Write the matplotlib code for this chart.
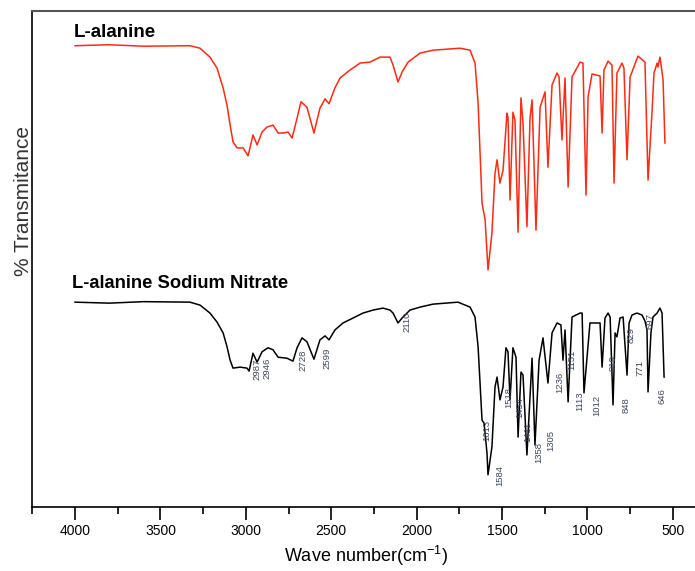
import matplotlib.pyplot as plt
from matplotlib.ticker import MultipleLocator

# L-alanine (red trace): wavenumber (cm-1) and transmittance (arb. %)
red_wn = [4000, 3800, 3600, 3327, 3268, 3210, 3169, 3133, 3110, 3092, 3075, 3051, 3016, 2987,
          2958, 2934, 2905, 2876, 2841, 2811, 2782, 2753, 2729, 2700, 2677, 2642, 2601,
          2566, 2536, 2513, 2478, 2448, 2390, 2331, 2273, 2214, 2156, 2138, 2109, 2085,
          2050, 1980, 1904, 1746, 1687, 1658, 1640, 1617, 1599, 1582, 1559, 1541, 1529,
          1512, 1494, 1471, 1465, 1453, 1436, 1424, 1406, 1389, 1377, 1354, 1336, 1324,
          1301, 1277, 1248, 1231, 1207, 1178, 1166, 1149, 1131, 1113, 1090, 1043, 1026,
          1008, 996, 973, 926, 914, 903, 879, 856, 844, 827, 797, 786, 768, 750, 704,
          663, 645, 622, 610, 592, 587, 575, 557, 546]
red_t = [93.0, 93.2, 92.9, 93.0, 92.5, 90.7, 88.5, 84.5, 81.0, 77.0, 73.6, 72.4, 72.4, 70.8,
         75.0, 73.0, 75.6, 76.6, 77.0, 75.4, 75.4, 75.6, 74.4, 78.4, 81.7, 80.6, 75.4,
         80.4, 82.3, 81.3, 84.5, 86.5, 88.1, 89.5, 89.7, 90.7, 90.7, 89.1, 85.7, 87.7,
         89.7, 91.5, 92.1, 92.5, 92.1, 89.5, 81.5, 61.3, 57.9, 47.8, 55.2, 67.3, 70.0,
         65.3, 67.9, 79.4, 78.6, 61.9, 79.6, 78.0, 55.4, 82.5, 77.4, 56.5, 78.4, 82.1,
         55.8, 80.6, 83.7, 68.5, 85.1, 87.5, 86.7, 74.0, 86.5, 64.5, 86.7, 89.7, 89.5,
         62.9, 82.7, 87.3, 86.9, 75.4, 88.1, 89.9, 89.1, 65.3, 87.5, 89.5, 88.5, 70.0,
         86.7, 90.9, 89.7, 65.9, 79.4, 87.5, 89.5, 88.7, 90.7, 86.1, 73.4]

# L-alanine Sodium Nitrate (black trace)
blk_wn = [4000, 3800, 3600, 3327, 3268, 3210, 3169, 3133, 3110, 3092, 3075, 3034, 2993, 2981,
          2958, 2934, 2905, 2870, 2841, 2811, 2759, 2724, 2700, 2671, 2642, 2601, 2566,
          2536, 2513, 2478, 2431, 2372, 2314, 2255, 2197, 2156, 2138, 2109, 2085, 2039,
          1980, 1904, 1758, 1687, 1658, 1640, 1617, 1605, 1588, 1582, 1559, 1541, 1529,
          1512, 1494, 1477, 1465, 1453, 1436, 1418, 1406, 1389, 1377, 1354, 1324, 1307,
          1283, 1260, 1231, 1207, 1178, 1155, 1143, 1131, 1113, 1090, 1043, 1031, 1020,
          985, 926, 914, 897, 879, 867, 850, 838, 827, 809, 791, 768, 756, 739, 710, 680,
          663, 651, 645, 628, 616, 592, 575, 563, 551]
blk_t = [41.3, 41.1, 41.4, 41.3, 40.7, 39.1, 37.3, 35.1, 32.3, 29.6, 28.0, 28.2, 28.0, 27.4,
         31.0, 29.2, 31.3, 32.1, 31.7, 30.2, 30.0, 29.4, 32.1, 34.1, 33.3, 29.8, 33.7,
         34.5, 33.7, 35.7, 37.1, 38.1, 39.1, 39.7, 40.1, 39.7, 39.1, 37.1, 38.1, 39.7,
         40.3, 40.9, 41.3, 40.3, 38.3, 32.3, 17.5, 16.9, 10.9, 6.5, 12.1, 24.2, 26.2,
         21.6, 24.2, 32.1, 31.3, 21.6, 32.1, 30.2, 14.1, 27.2, 26.6, 10.5, 30.0, 12.5,
         29.6, 34.1, 25.0, 35.1, 37.1, 36.7, 29.6, 35.7, 21.2, 38.3, 39.1, 39.1, 23.0,
         37.1, 37.1, 28.2, 38.1, 39.1, 38.3, 20.6, 35.1, 34.3, 38.1, 38.3, 26.6, 37.1,
         38.7, 39.1, 38.7, 37.5, 35.7, 23.2, 35.1, 38.3, 39.1, 40.1, 39.1, 26.2]

# peak labels on the black trace, with where each label sits
peak_labels = ['2987', '2946', '2728', '2599', '2110', '1613', '1584', '1518', '1454',
               '1411', '1358', '1305', '1236', '1151', '1113', '1012', '919', '848',
               '829', '771', '697', '646']
label_x = [2934, 2876, 2665, 2525, 2056, 1588, 1512, 1462, 1398, 1348, 1283, 1213,
           1160, 1090, 1043, 944, 850, 774, 745, 692, 633, 563]
label_top = [30.0, 30.0, 31.7, 32.1, 39.3, 17.5, 8.5, 24.2, 22.2, 17.1, 13.1, 15.5,
             27.2, 31.7, 23.2, 22.6, 30.6, 22.2, 36.3, 29.6, 39.1, 24.0]

sans = ['Liberation Sans', 'DejaVu Sans']
plt.rcParams['mathtext.default'] = 'regular'

fig = plt.figure(figsize=(6.95, 5.71), dpi=100)
ax = fig.add_axes([32 / 695, 64 / 571, 663 / 695, 496 / 571])

ax.plot(red_wn, red_t, color='#ff2a12', lw=1.1)
ax.plot(blk_wn, blk_t, color='black', lw=1.1)

for lab, lx, ly in zip(peak_labels, label_x, label_top):
    ax.text(lx, ly, lab, rotation=90, ha='center', va='top', fontsize=6.8,
            color='#3b4660', family=sans)

ax.text(4008, 94.8, 'L-alanine', fontsize=13.5, fontweight='bold', family=sans,
        ha='left', va='baseline')
ax.text(4018, 44.2, 'L-alanine Sodium Nitrate', fontsize=13.2, fontweight='bold',
        family=sans, ha='left', va='baseline')

ax.set_xlim(4252, 370)
ax.set_ylim(0, 100)
ax.xaxis.set_major_locator(MultipleLocator(500))
ax.xaxis.set_minor_locator(MultipleLocator(250))
ax.set_yticks([])
ax.tick_params(axis='x', which='major', direction='out', length=9, width=1.2,
               labelsize=10, pad=3)
ax.tick_params(axis='x', which='minor', direction='out', length=5, width=1.2)
for t in ax.get_xticklabels():
    t.set_family(sans)

ax.spines['right'].set_visible(False)
ax.spines['top'].set_color('#555555')
ax.spines['top'].set_linewidth(1.5)
ax.spines['left'].set_linewidth(1.2)
ax.spines['bottom'].set_linewidth(1.2)

fig.text(366 / 695, 1 - 556 / 571, 'Wave number(cm$^{-1}$)', fontsize=13, family=sans,
         ha='center', va='center')
fig.text(24 / 695, 1 - 201 / 571, '% Transmitance', fontsize=15, rotation=90,
         ha='center', va='center', color='#333333', family=sans)

fig.savefig('out.png', dpi=100)
